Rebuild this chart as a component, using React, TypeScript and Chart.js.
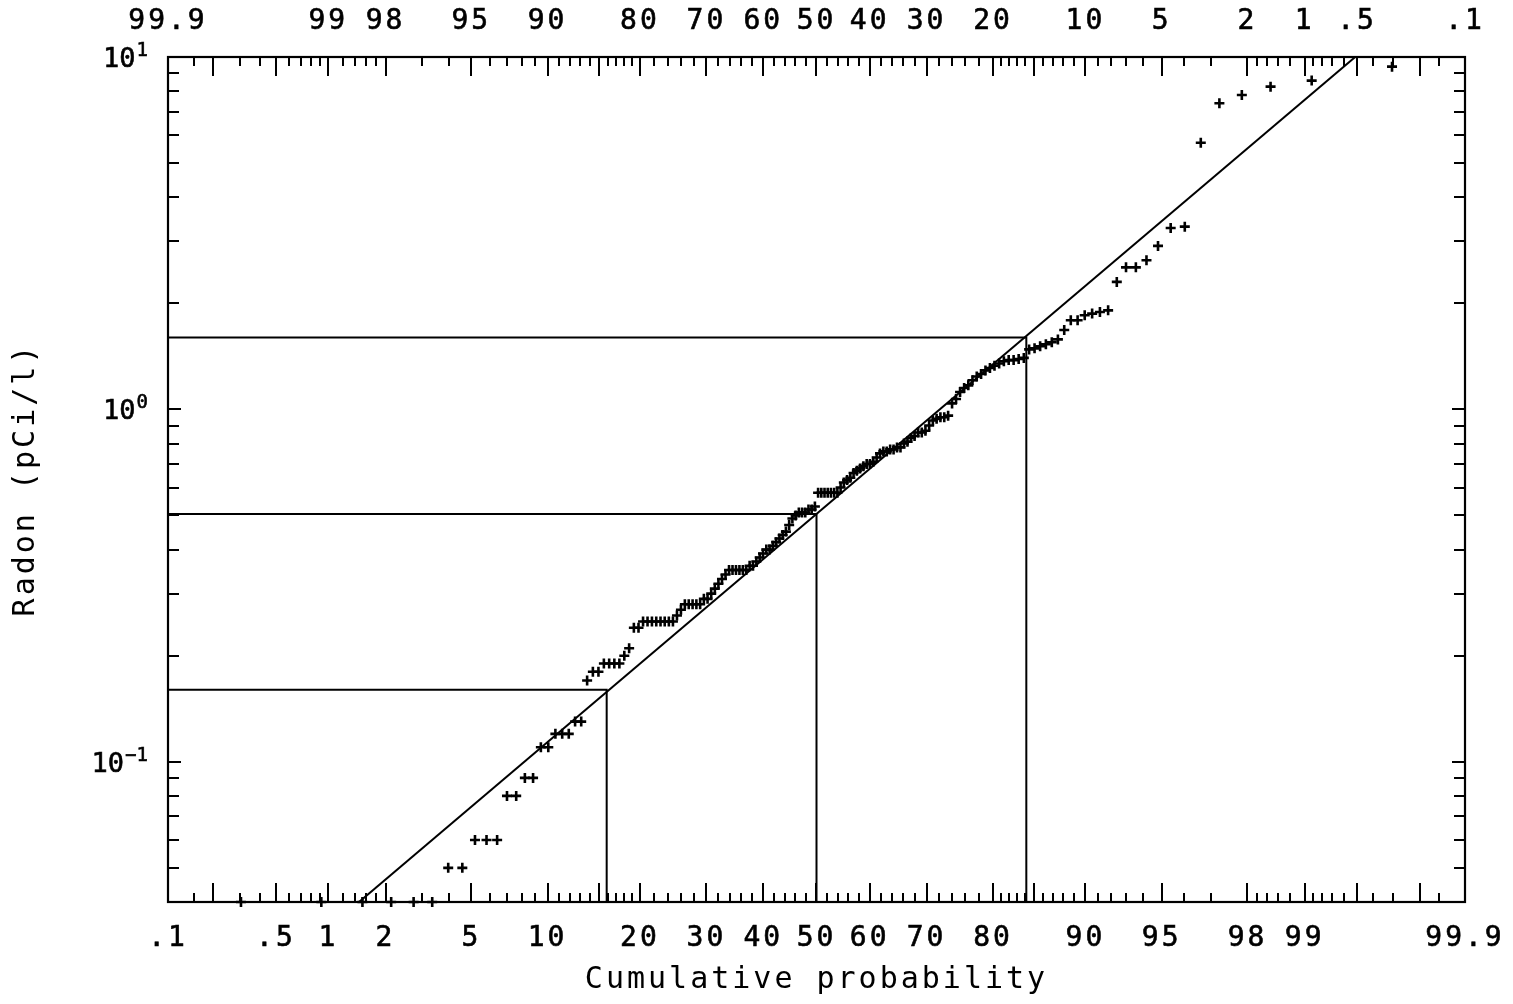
import React, { useEffect, useRef } from "react";
import { Chart, registerables } from "chart.js";

Chart.register(...registerables);

// Sorted radon concentrations (pCi/l), plotted at Hazen positions (i - 0.5) / n
const radonValues = [
  0.04, 0.04, 0.04, 0.04, 0.04, 0.04,
  0.05, 0.05,
  0.06, 0.06, 0.06,
  0.08, 0.08,
  0.09, 0.09,
  0.11, 0.11,
  0.12, 0.12, 0.12,
  0.13, 0.13,
  0.17,
  0.18, 0.18,
  0.19, 0.19, 0.19, 0.19,
  0.2,
  0.21,
  0.24, 0.24,
  0.25, 0.25, 0.25, 0.25, 0.25, 0.25, 0.25, 0.25,
  0.26,
  0.27,
  0.28, 0.28, 0.28, 0.28, 0.28,
  0.29, 0.29,
  0.3, 0.31, 0.32, 0.33, 0.34,
  0.35, 0.35, 0.35, 0.35, 0.35, 0.35,
  0.36, 0.36,
  0.37, 0.38, 0.39,
  0.4, 0.4,
  0.41, 0.42, 0.43, 0.44, 0.45, 0.47, 0.49, 0.5,
  0.51, 0.51, 0.51,
  0.52, 0.52,
  0.53,
  0.58, 0.58, 0.58, 0.58, 0.58, 0.58, 0.58,
  0.6, 0.62, 0.63, 0.64, 0.66, 0.67, 0.68, 0.69,
  0.7, 0.7,
  0.71, 0.73, 0.75,
  0.76, 0.76, 0.77, 0.77, 0.78, 0.78,
  0.8, 0.81, 0.83, 0.84,
  0.86, 0.86, 0.87,
  0.9, 0.93, 0.94, 0.95, 0.95, 0.96,
  1.04, 1.07, 1.12, 1.15, 1.17, 1.21, 1.24, 1.26, 1.29, 1.31, 1.33, 1.35,
  1.37, 1.38, 1.38, 1.39, 1.4,
  1.48, 1.49, 1.51, 1.53, 1.55, 1.58,
  1.68, 1.79, 1.79,
  1.85, 1.87, 1.89, 1.91,
  2.3, 2.53, 2.53, 2.65, 2.91, 3.27, 3.3,
  5.71, 7.39, 7.8, 8.24, 8.57, 9.39,
];

// Lognormal fit: geometric mean and geometric standard deviation
const fitGeoMean = 0.505;
const fitGeoSD = 3.2;

// Reference percentiles (16%, 50%, 84%) and the fitted values read there
const refProbs = [15.87, 50, 84.13];
const refValues = [0.16, 0.505, 1.6];

// Axis ranges
const probMin = 0.1;
const probMax = 99.9;
const yMin = 0.04;
const yMax = 10;

// Tick labels
const bottomLabelProbs = [0.1, 0.5, 1, 2, 5, 10, 20, 30, 40, 50, 60, 70, 80, 90, 95, 98, 99, 99.9];
const topLabelProbs = [0.1, 1, 2, 5, 10, 20, 30, 40, 50, 60, 70, 80, 90, 95, 98, 99, 99.5, 99.9];
const yLabelValues = [0.1, 1, 10];
const yLabelBases = ["10", "10", "10"];
const yLabelExponents = ["\u22121", "0", "1"];

// Tick marks
const majorTickProbs = [0.2, 0.5, 1, 2, 5, 10, 15, 20, 30, 40, 50, 60, 70, 80, 85, 90, 95, 98, 99, 99.5, 99.8];
const minorTickProbs = [
  0.15, 0.3, 0.4, 0.6, 0.7, 0.8, 0.9, 1.2, 1.4, 1.6, 1.8, 3, 4, 6, 7, 8, 9,
  11, 12, 13, 14, 16, 17, 18, 19, 22, 24, 26, 28, 32, 34, 36, 38, 42, 44, 46, 48,
  52, 54, 56, 58, 62, 64, 66, 68, 72, 74, 76, 78, 81, 82, 83, 84, 86, 87, 88, 89,
  91, 92, 93, 94, 96, 97, 98.2, 98.4, 98.6, 98.8, 99.1, 99.2, 99.3, 99.4, 99.6, 99.7, 99.85,
];
const yMajorTicks = [0.1, 1, 10];
const yMinorTicks = [0.05, 0.06, 0.07, 0.08, 0.09, 0.2, 0.3, 0.4, 0.5, 0.6, 0.7, 0.8, 0.9, 2, 3, 4, 5, 6, 7, 8, 9];

function invNorm(p: number): number {
  const a = [-3.969683028665376e1, 2.209460984245205e2, -2.759285104469687e2, 1.38357751867269e2, -3.066479806614716e1, 2.506628277459239];
  const b = [-5.447609879822406e1, 1.615858368580409e2, -1.556989798598866e2, 6.680131188771972e1, -1.328068155288572e1];
  const c = [-7.784894002430293e-3, -3.223964580411365e-1, -2.400758277161838, -2.549671010229528, 4.374664141464968, 2.938163982698783];
  const d = [7.784695709041462e-3, 3.224671290700398e-1, 2.445134137142996, 3.754408661907416];
  const pl = 0.02425;
  if (p < pl) {
    const q = Math.sqrt(-2 * Math.log(p));
    return (((((c[0] * q + c[1]) * q + c[2]) * q + c[3]) * q + c[4]) * q + c[5]) / ((((d[0] * q + d[1]) * q + d[2]) * q + d[3]) * q + 1);
  }
  if (p <= 1 - pl) {
    const q = p - 0.5;
    const r = q * q;
    return ((((((a[0] * r + a[1]) * r + a[2]) * r + a[3]) * r + a[4]) * r + a[5]) * q) / (((((b[0] * r + b[1]) * r + b[2]) * r + b[3]) * r + b[4]) * r + 1);
  }
  const q = Math.sqrt(-2 * Math.log(1 - p));
  return -(((((c[0] * q + c[1]) * q + c[2]) * q + c[3]) * q + c[4]) * q + c[5]) / ((((d[0] * q + d[1]) * q + d[2]) * q + d[3]) * q + 1);
}

const probToZ = (pct: number) => invNorm(pct / 100);

function fmtProb(v: number): string {
  const r = Math.round(v * 10) / 10;
  const s = String(r);
  return r < 1 ? s.replace(/^0/, "") : s;
}

const FONT_FAMILY = "'DejaVu Sans Mono', 'Liberation Mono', monospace";
const tickFont = { family: FONT_FAMILY, size: 28, weight: "normal" as const };
const titleFont = { family: FONT_FAMILY, size: 30, weight: "normal" as const };

const framePlugin = {
  id: "probFrame",
  beforeUpdate(chart: any) {
    chart.ctx.letterSpacing = "3px";
  },
  beforeDraw(chart: any) {
    chart.ctx.letterSpacing = "3px";
  },
  afterDraw(chart: any) {
    const { ctx, chartArea: a, scales } = chart;
    ctx.save();
    ctx.letterSpacing = "0px";
    ctx.strokeStyle = "#000";
    ctx.fillStyle = "#000";
    ctx.lineWidth = 2.2;
    ctx.lineCap = "butt";
    ctx.strokeRect(a.left, a.top, a.right - a.left, a.bottom - a.top);
    ctx.lineWidth = 2;
    const line = (x1: number, y1: number, x2: number, y2: number) => {
      ctx.beginPath();
      ctx.moveTo(x1, y1);
      ctx.lineTo(x2, y2);
      ctx.stroke();
    };
    const xs = scales.x;
    const ys = scales.y;
    const xTick = (p: number, len: number) => {
      const px = Math.round(xs.getPixelForValue(probToZ(p)));
      line(px, a.bottom, px, a.bottom - len);
      line(px, a.top, px, a.top + len);
    };
    majorTickProbs.forEach((p) => xTick(p, 19));
    minorTickProbs.forEach((p) => xTick(p, 9));
    const yTick = (v: number, len: number) => {
      const py = Math.round(ys.getPixelForValue(v));
      line(a.left, py, a.left + len, py);
      line(a.right, py, a.right - len, py);
    };
    yMajorTicks.forEach((v) => yTick(v, 13));
    yMinorTicks.forEach((v) => yTick(v, 11));

    // y tick labels: base with raised exponent, placed by the y scale
    const rightEdge = a.left - 20;
    ctx.textAlign = "right";
    ctx.textBaseline = "alphabetic";
    ctx.lineWidth = 0.6;
    yLabelValues.forEach((v, i) => {
      const py = ys.getPixelForValue(v);
      ctx.font = `19px ${FONT_FAMILY}`;
      const expW = ctx.measureText(yLabelExponents[i]).width;
      ctx.fillText(yLabelExponents[i], rightEdge, py - 1);
      ctx.strokeText(yLabelExponents[i], rightEdge, py - 1);
      ctx.font = `27px ${FONT_FAMILY}`;
      ctx.fillText(yLabelBases[i], rightEdge - expW - 1, py + 10);
      ctx.strokeText(yLabelBases[i], rightEdge - expW - 1, py + 10);
    });
    ctx.restore();
  },
};

const noPadding = (s: any) => {
  s.paddingLeft = 0;
  s.paddingRight = 0;
  s.paddingTop = 0;
  s.paddingBottom = 0;
};

export default function App() {
  const canvasRef = useRef<HTMLCanvasElement | null>(null);

  useEffect(() => {
    const canvas = canvasRef.current;
    if (!canvas) return;
    const n = radonValues.length;
    const zMin = probToZ(probMin);
    const zMax = probToZ(probMax);

    const points = radonValues.map((v, i) => ({ x: probToZ((100 * (i + 0.5)) / n), y: v }));
    const fitLine = [
      { x: zMin, y: fitGeoMean * Math.pow(fitGeoSD, zMin) },
      { x: zMax, y: fitGeoMean * Math.pow(fitGeoSD, zMax) },
    ];
    const refDatasets = refProbs.map((p, k) => ({
      type: "line" as const,
      data: [
        { x: zMin, y: refValues[k] },
        { x: probToZ(p), y: refValues[k] },
        { x: probToZ(p), y: yMin },
      ],
      borderColor: "#000",
      borderWidth: 2,
      pointRadius: 0,
      fill: false,
      tension: 0,
    }));

    const chart = new Chart(canvas, {
      type: "scatter",
      data: {
        datasets: [
          {
            data: points,
            pointStyle: "cross",
            pointRadius: 5,
            pointBorderWidth: 2.6,
            borderColor: "#000",
            backgroundColor: "#000",
            showLine: false,
            clip: false as any,
          } as any,
          {
            type: "line",
            data: fitLine,
            borderColor: "#000",
            borderWidth: 2,
            pointRadius: 0,
            fill: false,
            tension: 0,
          } as any,
          ...(refDatasets as any[]),
        ],
      },
      options: {
        responsive: false,
        animation: false,
        devicePixelRatio: 1,
        events: [],
        layout: { padding: 0 },
        plugins: {
          legend: { display: false },
          tooltip: { enabled: false },
          title: { display: false },
        },
        scales: {
          x: {
            type: "linear",
            position: "bottom",
            min: zMin,
            max: zMax,
            bounds: "data",
            grid: { display: false, drawTicks: false },
            border: { display: false },
            afterBuildTicks: (s: any) => {
              s.ticks = bottomLabelProbs.map((p) => ({ value: probToZ(p) }));
            },
            afterFit: (s: any) => {
              s.height = 102;
              noPadding(s);
            },
            ticks: {
              autoSkip: false,
              maxRotation: 0,
              minRotation: 0,
              padding: 20,
              color: "#000",
              font: tickFont,
              textStrokeColor: "#000",
              textStrokeWidth: 0.6,
              callback: (_v: any, i: number) => fmtProb(bottomLabelProbs[i]),
            },
            title: {
              display: true,
              text: "Cumulative probability",
              color: "#000",
              font: titleFont,
              padding: { top: 0, bottom: 6 },
            },
          },
          x2: {
            type: "linear",
            position: "top",
            min: zMin,
            max: zMax,
            bounds: "data",
            grid: { display: false, drawTicks: false },
            border: { display: false },
            afterBuildTicks: (s: any) => {
              s.ticks = topLabelProbs.map((p) => ({ value: probToZ(p) }));
            },
            afterFit: (s: any) => {
              s.height = 57;
              noPadding(s);
            },
            ticks: {
              autoSkip: false,
              maxRotation: 0,
              minRotation: 0,
              padding: 18,
              color: "#000",
              font: tickFont,
              textStrokeColor: "#000",
              textStrokeWidth: 0.6,
              callback: (_v: any, i: number) => fmtProb(100 - topLabelProbs[i]),
            },
          },
          y: {
            type: "logarithmic",
            position: "left",
            min: yMin,
            max: yMax,
            bounds: "data",
            grid: { display: false, drawTicks: false },
            border: { display: false },
            afterBuildTicks: (s: any) => {
              s.ticks = yLabelValues.map((v) => ({ value: v }));
            },
            afterFit: (s: any) => {
              s.width = 168;
              noPadding(s);
            },
            ticks: { display: false },
            title: {
              display: true,
              text: "Radon (pCi/l)",
              color: "#000",
              font: titleFont,
              padding: { top: 8, bottom: 0 },
            },
          },
          y2: {
            type: "logarithmic",
            position: "right",
            min: yMin,
            max: yMax,
            bounds: "data",
            grid: { display: false, drawTicks: false },
            border: { display: false },
            ticks: { display: false },
            afterFit: (s: any) => {
              s.width = 48;
              noPadding(s);
            },
          },
        },
      } as any,
      plugins: [framePlugin as any],
    });

    return () => {
      chart.destroy();
    };
  }, []);

  return (
    <div style={{ position: "absolute", left: 0, top: 0, width: 1513, height: 1004, background: "#fff" }}>
      <canvas ref={canvasRef} width={1513} height={1004} style={{ display: "block", width: 1513, height: 1004 }} />
    </div>
  );
}
